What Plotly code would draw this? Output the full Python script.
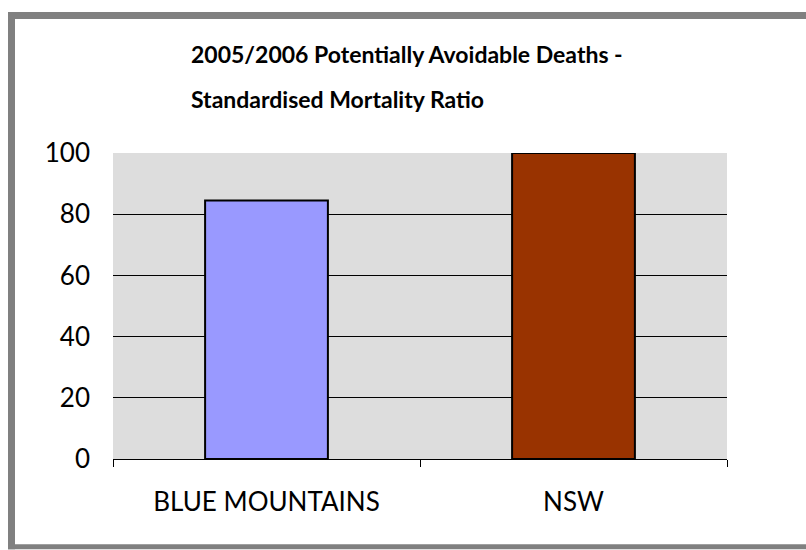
import plotly.graph_objects as go

categories = ["BLUE MOUNTAINS", "NSW"]
values = [84.5, 100]
bar_colors = ["#9999FF", "#993300"]
y_ticks = [0, 20, 40, 60, 80, 100]
title_lines = ["2005/2006 Potentially Avoidable Deaths -", "Standardised Mortality Ratio"]

W, H = 806, 550
L, R, T, B = 113, 727, 152.5, 459.5  # plot area in pixels


def px_x(px):
    return (px - L) / (R - L)


def px_y(py):
    return (B - py) / (B - T)


FONT = "Lato, 'Open Sans', sans-serif"

fig = go.Figure()
fig.add_trace(go.Bar(
    x=categories,
    y=values,
    marker=dict(color=bar_colors, line=dict(color="black", width=2)),
    width=0.4,
))

fig.update_layout(
    width=W,
    height=H,
    margin=dict(l=L, r=W - R, t=T, b=H - B, pad=0),
    paper_bgcolor="white",
    plot_bgcolor="#DDDDDD",
    showlegend=False,
    font=dict(family=FONT, color="black"),
    xaxis=dict(
        type="category",
        showline=True,
        linecolor="black",
        linewidth=1,
        ticks="outside",
        tickson="boundaries",
        ticklen=7,
        tickcolor="black",
        tickfont=dict(size=26, family=FONT),
        ticklabelstandoff=20,
        showgrid=False,
    ),
    yaxis=dict(
        range=[0, 100],
        tickvals=y_ticks,
        showgrid=True,
        gridcolor="black",
        gridwidth=1,
        zeroline=False,
        showline=False,
        ticks="",
        tickfont=dict(size=26, family=FONT),
        ticklabelstandoff=22,
    ),
)

# title lines (left aligned block)
for text, py in zip(title_lines, [53, 98]):
    fig.add_annotation(
        text="<b>" + text + "</b>",
        xref="paper", yref="paper",
        x=px_x(189), y=px_y(py),
        xanchor="left", yanchor="middle",
        showarrow=False,
        font=dict(size=23, family=FONT, color="black"),
    )

# outer grey frame (top, left, bottom bands; right side lies outside the image)
frame_bands = [
    (8, 11, 806, 18),     # top
    (8, 11, 15, 550),     # left
    (8, 545, 806, 550),   # bottom
]
for x0, y0, x1, y1 in frame_bands:
    fig.add_shape(
        type="rect", xref="paper", yref="paper",
        x0=px_x(x0), x1=px_x(x1), y0=px_y(y1), y1=px_y(y0),
        line=dict(width=0),
        fillcolor="#808080",
        layer="above",
    )

html = fig.to_html(
    config={"displayModeBar": False},
    include_plotlyjs=True,
    full_html=True,
)
html = html.replace("<head>", "<head><style>html,body{margin:0;padding:0;overflow:hidden;}</style>", 1)
with open("out.html", "w", encoding="utf-8") as f:
    f.write(html)
